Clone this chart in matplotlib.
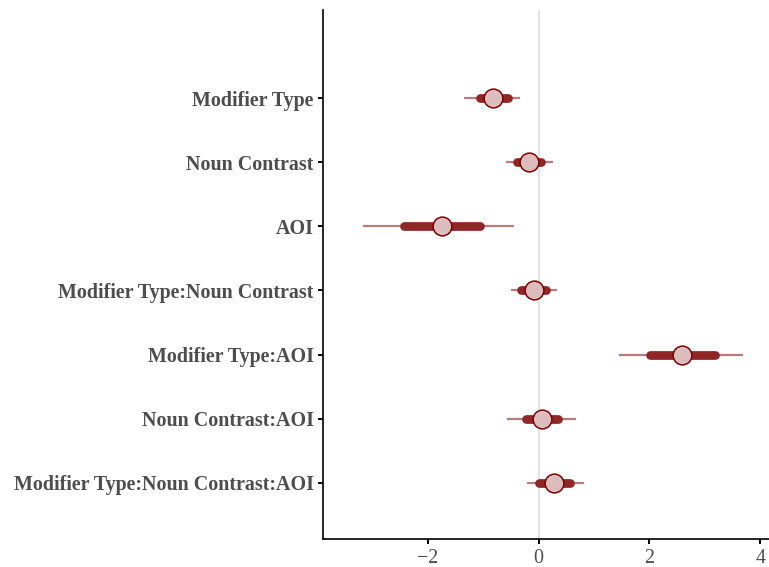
#!/usr/bin/env python3
"""Posterior interval plot (bayesplot-style) for the fixed effects."""
import numpy as np
import matplotlib
matplotlib.use("Agg")
import matplotlib.pyplot as plt

params = ["Modifier Type", "Noun Contrast", "AOI", "Modifier Type:Noun Contrast",
          "Modifier Type:AOI", "Noun Contrast:AOI", "Modifier Type:Noun Contrast:AOI"]
median = [-0.82, -0.17, -1.74, -0.09, 2.59, 0.06, 0.285]
inner_lo = [-1.06, -0.39, -2.42, -0.31, 2.01, -0.22, 0.00]
inner_hi = [-0.56, 0.05, -1.06, 0.135, 3.18, 0.36, 0.56]
outer_lo = [-1.34, -0.59, -3.17, -0.49, 1.45, -0.57, -0.20]
outer_hi = [-0.33, 0.27, -0.45, 0.33, 3.69, 0.68, 0.82]

LIGHT, MID, DARK, DARK_HL = "#DCBCBC", "#B97C7C", "#8F2727", "#7C0000"

plt.rcParams["font.family"] = ["Liberation Serif", "DejaVu Serif"]

fig = plt.figure(figsize=(7.69, 5.67), dpi=100)
ax = fig.add_axes([0.4204, 0.0494, 0.5796, 0.933])

ypos = np.arange(len(params))[::-1] + 1
ax.axvline(0, color="#e3e3e3", lw=1.5, zorder=0)
ax.hlines(ypos, outer_lo, outer_hi, color=MID, lw=1.6, zorder=1)
for y, lo, hi in zip(ypos, inner_lo, inner_hi):
    ax.plot([lo, hi], [y, y], color=DARK, lw=6.3, solid_capstyle="round", zorder=2)
ax.plot(median, ypos, "o", ms=13.5, mfc=LIGHT, mec=DARK_HL, mew=1.1, ls="none", zorder=3)

ax.set_xlim(-3.885, 4.16)
ax.set_ylim(0.12, 8.38)
ax.set_yticks(ypos)
ax.set_yticklabels(params, fontsize=14.4, fontweight="bold", color="#4d4d4d")
ax.set_xticks([-2, 0, 2, 4])
ax.set_xticklabels(["\u22122", "0", "2", "4"], fontsize=14.4, color="#4d4d4d")
ax.tick_params(axis="both", length=3.5, width=1.4, color="black")
ax.spines["top"].set_visible(False)
ax.spines["right"].set_visible(False)
for s in ("left", "bottom"):
    ax.spines[s].set_linewidth(1.2)

fig.savefig("out.png", dpi=100)
